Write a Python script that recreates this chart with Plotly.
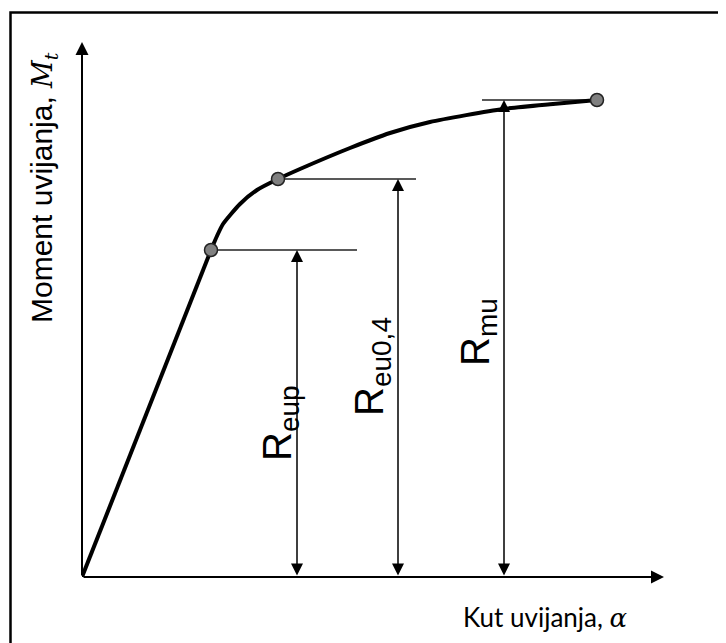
import plotly.graph_objects as go

# Curve: torsion angle (alpha) vs torsional moment (M_t), arbitrary units
alpha_linear = [0, 129]
moment_linear = [0, 327]
alpha_curve = [129, 135, 141, 158, 175, 196, 218, 268, 308, 348, 421, 471, 515]
moment_curve = [327, 341, 353, 373, 387, 398, 408, 429, 444, 455, 468, 473, 477]

# Characteristic points
point_names = ["eup", "eu0,4", "mu"]
point_alpha = [129, 196, 515]
point_moment = [327, 398, 477]

# Reference lines and dimension arrows
ref_line_start = [128, 196, 400]
ref_line_end = [275, 334, 515]
arrow_alpha = [215, 316, 422]
label_alpha = [198, 290, 396]
label_moment = [154, 210, 245]

x_max = 582
y_max = 535

# page body has an 8px default margin; the figure is sized/offset to compensate
OFF = 8
W, H = 726 - OFF, 643 - OFF
ML, MR, MT, MB = 82 - OFF, 62, 42 - OFF, 66
PW, PH = W - ML - MR, H - MT - MB

def px_to_paper_x(px):
    return (px - OFF - ML) / PW

def px_to_paper_y(py):
    return (H - MB - (py - OFF)) / PH

fig = go.Figure()

fig.add_trace(go.Scatter(x=alpha_linear, y=moment_linear, mode="lines",
                         line=dict(color="black", width=4), hoverinfo="skip",
                         showlegend=False, cliponaxis=False))
fig.add_trace(go.Scatter(x=alpha_curve, y=moment_curve, mode="lines",
                         line=dict(color="black", width=4, shape="spline", smoothing=0.6),
                         hoverinfo="skip", showlegend=False, cliponaxis=False))

shapes = []
for xs, xe, ym in zip(ref_line_start, ref_line_end, point_moment):
    shapes.append(dict(type="line", xref="x", yref="y", x0=xs, x1=xe, y0=ym, y1=ym,
                       line=dict(color="#222222", width=1.5), layer="below"))

# outer border
shapes.append(dict(type="rect", xref="paper", yref="paper",
                   x0=px_to_paper_x(10.5), x1=px_to_paper_x(760),
                   y0=px_to_paper_y(700), y1=px_to_paper_y(12.5),
                   line=dict(color="black", width=2.5), fillcolor="rgba(0,0,0,0)"))

fig.add_trace(go.Scatter(x=point_alpha, y=point_moment, mode="markers",
                         marker=dict(size=13, color="#808080",
                                     line=dict(color="#222222", width=1.5)),
                         hoverinfo="skip", showlegend=False, cliponaxis=False))

annotations = []
# axes arrows
annotations.append(dict(x=x_max, y=0, ax=0, ay=0, xref="x", yref="y", axref="x", ayref="y",
                        text="", showarrow=True, arrowhead=2, arrowwidth=2, arrowsize=1.3,
                        arrowcolor="black", standoff=0))
annotations.append(dict(x=0, y=y_max, ax=0, ay=0, xref="x", yref="y", axref="x", ayref="y",
                        text="", showarrow=True, arrowhead=2, arrowwidth=2, arrowsize=1.3,
                        arrowcolor="black", standoff=0))

for xa, ym in zip(arrow_alpha, point_moment):
    annotations.append(dict(x=xa, y=ym, ax=xa, ay=0, xref="x", yref="y", axref="x", ayref="y",
                            text="", showarrow=True, arrowhead=2, startarrowhead=2,
                            arrowside="end+start", arrowwidth=1.5, arrowsize=1.6,
                            startarrowsize=1.6, arrowcolor="black", standoff=0,
                            startstandoff=0))

for name, lx, ly in zip(point_names, label_alpha, label_moment):
    annotations.append(dict(x=lx, y=ly, xref="x", yref="y", text="R<sub>%s</sub>" % name,
                            showarrow=False, textangle=-90, xanchor="center", yanchor="middle",
                            font=dict(family="Liberation Sans, Arial", size=40, color="black")))

annotations.append(dict(x=px_to_paper_x(43), y=px_to_paper_y(188), xref="paper", yref="paper",
                        text="Moment uvijanja, <span style=\"font-family:'DejaVu Serif';font-size:27px\"><i>M</i><sub><i>t</i></sub></span>",
                        showarrow=False, textangle=-90, xanchor="center", yanchor="middle",
                        font=dict(family="Liberation Sans, Arial", size=30, color="black")))

annotations.append(dict(x=px_to_paper_x(545), y=px_to_paper_y(617), xref="paper", yref="paper",
                        text="Kut uvijanja, <span style=\"font-family:'DejaVu Serif';font-size:26px\"><i>α</i></span>",
                        showarrow=False, xanchor="center", yanchor="middle",
                        font=dict(family="Lato, Liberation Sans", size=26, color="black")))

fig.update_layout(
    width=W, height=H,
    margin=dict(l=ML, r=MR, t=MT, b=MB, pad=0),
    paper_bgcolor="white", plot_bgcolor="white",
    xaxis=dict(range=[0, x_max], visible=False, fixedrange=True),
    yaxis=dict(range=[0, y_max], visible=False, fixedrange=True),
    shapes=shapes, annotations=annotations, showlegend=False,
)

fig.write_html("out.html")
